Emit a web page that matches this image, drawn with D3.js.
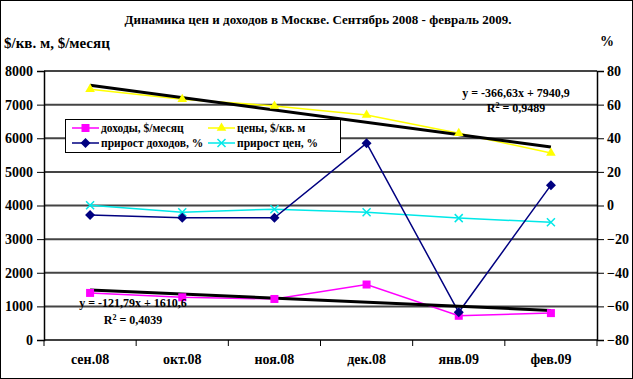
<!DOCTYPE html>
<html>
<head>
<meta charset="utf-8">
<script src="https://cdn.jsdelivr.net/npm/d3@7"></script>
<style>
  body { margin: 0; background: #fff; }
  svg text { font-family: "Liberation Serif", "Times New Roman", "DejaVu Serif", serif !important; font-weight: bold; }
</style>
</head>
<body>
<div id="container"></div>
<script>
var months = ["сен.08", "окт.08", "ноя.08", "дек.08", "янв.09", "фев.09"];
var incomes = [1400, 1270, 1220, 1650, 720, 800];       // $/месяц
var prices = [7460, 7160, 6960, 6690, 6150, 5560];      // $/кв. м
var incomeGrowth = [-5.7, -7.3, -7.3, 37.1, -63.5, 12.1]; // %
var priceGrowth = [0.2, -4, -2.2, -4, -7.5, -10];         // %
var leftTicks = [0, 1000, 2000, 3000, 4000, 5000, 6000, 7000, 8000];
var rightTicks = [-80, -60, -40, -20, 0, 20, 40, 60, 80];
var priceTrend = [-366.63, 7940.9];
var incomeTrend = [-121.79, 1610.6];

var width = 633, height = 379;
var margin = {top: 71, right: 36, bottom: 39, left: 44};

var svg = d3.select("#container").append("svg")
    .attr("width", width)
    .attr("height", height);

// outer frame
svg.append("rect")
    .attr("x", 0.5).attr("y", 0.5)
    .attr("width", width - 1).attr("height", height - 1)
    .attr("fill", "#fff").attr("stroke", "#000").attr("stroke-width", 1);

var x = d3.scaleBand()
    .domain(months)
    .range([margin.left, width - margin.right]);

var yL = d3.scaleLinear()
    .domain([0, 8000])
    .range([height - margin.bottom, margin.top]);

var yR = d3.scaleLinear()
    .domain([-80, 80])
    .range([height - margin.bottom, margin.top]);

var cx = function(d, i) { return x(months[i]) + x.bandwidth() / 2; };

// grid lines
svg.append("g")
  .selectAll("line")
  .data(leftTicks.slice(1))
  .enter().append("line")
    .attr("x1", margin.left).attr("x2", width - margin.right)
    .attr("y1", function(d) { return yL(d); })
    .attr("y2", function(d) { return yL(d); })
    .attr("stroke", "#444").attr("stroke-width", 2);

// left axis
var axL = svg.append("g")
    .attr("transform", "translate(" + margin.left + ",0)")
    .call(d3.axisLeft(yL).tickValues(leftTicks).tickSize(7).tickPadding(4).tickFormat(d3.format("d")));

// right axis
var axR = svg.append("g")
    .attr("transform", "translate(" + (width - margin.right) + ",0)")
    .call(d3.axisRight(yR).tickValues(rightTicks).tickSize(7).tickPadding(3).tickFormat(d3.format("d")));

// x axis with ticks between categories
var axX = svg.append("g")
    .attr("transform", "translate(0," + (height - margin.bottom) + ")");
axX.append("line")
    .attr("x1", margin.left).attr("x2", width - margin.right)
    .attr("stroke", "#000").attr("stroke-width", 1.5);
axX.selectAll(".bt")
  .data(d3.range(months.length + 1))
  .enter().append("line")
    .attr("x1", function(i) { return margin.left + i * x.step(); })
    .attr("x2", function(i) { return margin.left + i * x.step(); })
    .attr("y1", 0).attr("y2", 6)
    .attr("stroke", "#000");
axX.selectAll("text")
  .data(months)
  .enter().append("text")
    .attr("x", function(d) { return x(d) + x.bandwidth() / 2; })
    .attr("y", 24)
    .attr("text-anchor", "middle")
    .attr("font-size", 14)
    .text(function(d) { return d; });

[axL, axR].forEach(function(a) {
  a.select(".domain").attr("stroke", "#000").attr("stroke-width", 1.5);
  a.selectAll(".tick line").attr("stroke", "#000");
  a.selectAll("text")
      .attr("font-size", 14)
      .attr("fill", "#000");
});

// trend lines
function trendLine(coef) {
  return [0, 5].map(function(i) {
    return [cx(null, i), yL(coef[0] * (i + 1) + coef[1])];
  });
}

var line = d3.line();

// series lines
function drawSeries(vals, scale, color) {
  svg.append("path")
      .datum(vals.map(function(v, i) { return [cx(v, i), scale(v)]; }))
      .attr("d", line)
      .attr("fill", "none")
      .attr("stroke", color)
      .attr("stroke-width", 1.5);
}

drawSeries(priceGrowth, yR, "#00e8e8");
drawSeries(prices, yL, "#ffff00");
drawSeries(incomes, yL, "#ff00ff");
drawSeries(incomeGrowth, yR, "#000080");

svg.append("path").datum(trendLine(priceTrend)).attr("d", line)
    .attr("stroke", "#000").attr("stroke-width", 3).attr("fill", "none");
svg.append("path").datum(trendLine(incomeTrend)).attr("d", line)
    .attr("stroke", "#000").attr("stroke-width", 3).attr("fill", "none");

// markers
function marker(g, type, color) {
  if (type === "square") {
    g.append("rect").attr("x", -4).attr("y", -4).attr("width", 8).attr("height", 8).attr("fill", color);
  } else if (type === "triangle") {
    g.append("path").attr("d", d3.symbol(d3.symbolTriangle, 40)()).attr("fill", color);
  } else if (type === "diamond") {
    g.append("path").attr("d", "M0,-5L5,0L0,5L-5,0Z").attr("fill", color);
  } else if (type === "cross") {
    g.append("path").attr("d", "M-4,-4L4,4M-4,4L4,-4").attr("stroke", color).attr("stroke-width", 1.5);
  }
}

function drawMarkers(vals, scale, type, color) {
  svg.append("g").selectAll("g")
    .data(vals)
    .enter().append("g")
      .attr("transform", function(v, i) { return "translate(" + cx(v, i) + "," + scale(v) + ")"; })
      .each(function() { marker(d3.select(this), type, color); });
}

drawMarkers(priceGrowth, yR, "cross", "#00e8e8");
drawMarkers(prices, yL, "triangle", "#ffff00");
drawMarkers(incomes, yL, "square", "#ff00ff");
drawMarkers(incomeGrowth, yR, "diamond", "#000080");

// trend equations
svg.append("text").attr("x", 516).attr("y", 97).attr("text-anchor", "middle")
    .attr("font-size", 12).text("y = -366,63x + 7940,9");
var r1 = svg.append("text").attr("x", 516).attr("y", 112).attr("text-anchor", "middle").attr("font-size", 12);
r1.append("tspan").text("R");
r1.append("tspan").attr("dy", -4).attr("font-size", 8).text("2");
r1.append("tspan").attr("dy", 4).text(" = 0,9489");

svg.append("text").attr("x", 133).attr("y", 307).attr("text-anchor", "middle")
    .attr("font-size", 12).text("y = -121,79x + 1610,6");
var r2 = svg.append("text").attr("x", 133).attr("y", 324).attr("text-anchor", "middle").attr("font-size", 12);
r2.append("tspan").text("R");
r2.append("tspan").attr("dy", -4).attr("font-size", 8).text("2");
r2.append("tspan").attr("dy", 4).text(" = 0,4039");

// legend
var legend = svg.append("g").attr("transform", "translate(65,119)");
legend.append("rect").attr("x", 0.5).attr("y", 0.5).attr("width", 275).attr("height", 33)
    .attr("fill", "#fff").attr("stroke", "#000");
var items = [
  {name: "доходы, $/месяц", type: "square", color: "#ff00ff", col: 0, row: 0},
  {name: "цены, $/кв. м", type: "triangle", color: "#ffff00", col: 1, row: 0},
  {name: "прирост доходов, %", type: "diamond", color: "#000080", col: 0, row: 1},
  {name: "прирост цен, %", type: "cross", color: "#00e8e8", col: 1, row: 1}
];
var li = legend.selectAll(".li")
  .data(items)
  .enter().append("g")
    .attr("transform", function(d) { return "translate(" + (7 + d.col * 136) + "," + (9 + d.row * 15) + ")"; });
li.append("line").attr("x1", 0).attr("x2", 27).attr("stroke", function(d) { return d.color; }).attr("stroke-width", 1.5);
li.append("g").attr("transform", "translate(13.5,0)")
  .each(function(d) { marker(d3.select(this), d.type, d.color); });
li.append("text").attr("x", 29).attr("y", 4).attr("font-size", 11.5).text(function(d) { return d.name; });

// titles
svg.append("text").attr("x", 318).attr("y", 24).attr("text-anchor", "middle")
    .attr("font-size", 13).text("Динамика цен и доходов в Москве. Сентябрь 2008 - февраль 2009.");
svg.append("text").attr("x", 4).attr("y", 48).attr("font-size", 15).text("$/кв. м, $/месяц");
svg.append("text").attr("x", 600).attr("y", 46).attr("font-size", 14).text("%");
</script>
</body>
</html>
